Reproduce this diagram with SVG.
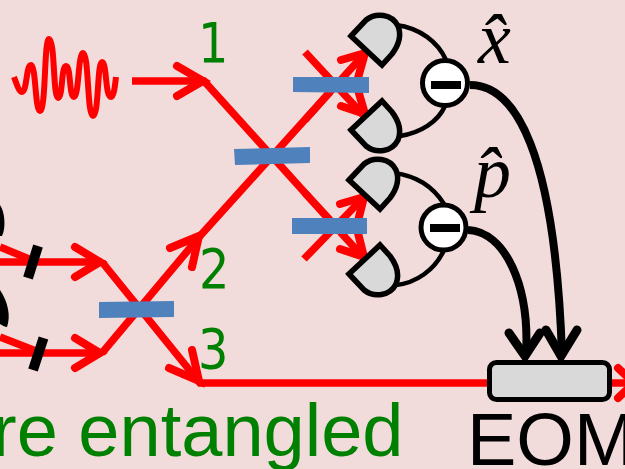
<svg xmlns="http://www.w3.org/2000/svg" width="625" height="469" viewBox="0 0 625 469">
<defs>
<style>
.r{fill:none;stroke:#ff0000;stroke-width:7.500}
.rh{fill:none;stroke:#ff0000;stroke-width:8;stroke-linecap:round}
.bs{fill:#4f81bd}
.det{fill:#d9d9d9;stroke:#000;stroke-width:5.500;stroke-linejoin:miter}
.w{fill:none;stroke:#000;stroke-width:4.500}
.t{fill:none;stroke:#000;stroke-width:8}
.th{fill:none;stroke:#000;stroke-width:9;stroke-linecap:round}
.g{fill:#008000;font-family:"DejaVu Sans",sans-serif;font-size:55px}
.big{font-family:"Liberation Sans",Arial,sans-serif;font-size:74px}
.m{font-family:"Liberation Serif","Times New Roman",serif;font-style:italic;font-size:74px;fill:#000}
</style>
<path id="d" class="det" d="M351,36 L366,20 C376,12 392,14 398,26 C402,36 398,46 392,54 L382,65 Z"/>
</defs>
<rect width="625" height="469" fill="#f2dcdb"/>
<g id="connectors">
<path fill="none" stroke="#ff0000" stroke-width="6" stroke-linejoin="round" d="M14,77 C17,85 19,92 22,92 C27,92 26,65 31,65 C36,65 35,111 40,111 C46,111 44,39 49,39 C55,39 53,98 58,98 C63,98 61,66 66,66 C71,66 69,97 74,97 C79,97 78,53 83,53 C89,53 87,116 93,116 C99,116 97,62 102,62 C107,62 105,97 111,97 C114,97 115,85 116,77"/>
<path class="r" d="M132,81 H204 L362,256"/>
<path class="rh" d="M177,66 L203,81 L177,96"/>
<path class="r" d="M102,353 L200,236 L366,52"/>
<path class="rh" d="M170,248 L199,236 L192,267"/>
<path class="r" d="M305,52 L366,118"/>
<path class="r" d="M305,120 L330,92"/>
<path class="r" d="M304,259 L366,195"/>
<path class="r" d="M305,193 L330,220"/>
<path class="rh" d="M341,60 L365,53 L358,78"/>
<path class="rh" d="M341,106 L365,114 L358,90"/>
<path class="rh" d="M340,204 L364,197 L358,221"/>
<path class="rh" d="M340,249 L364,257 L358,233"/>
<path class="r" d="M102,262 L200,383 H490"/>
<path class="rh" d="M169,368 L199,381 L192,350"/>
<path class="r" d="M0,262 H102"/>
<path class="r" d="M0,353 H102"/>
<path class="r" d="M0,247 L34,261"/>
<path class="r" d="M0,337 L36,351"/>
<path class="rh" d="M75,247 L100,262 L75,277"/>
<path class="rh" d="M75,338 L100,353 L75,368"/>
<path class="r" d="M612,383 H625"/>
<path class="rh" d="M618,368 L634,383 L618,398"/>
<path class="w" d="M396,25 C420,28 438,42 446,60"/>
<path class="w" d="M400,136 C420,133 438,122 445,106"/>
<path class="w" d="M394,173 C418,176 434,188 444,204"/>
<path class="w" d="M396,285 C416,283 435,270 444,250"/>
<path class="t" d="M470,85 C515,85 555,150 562,355"/>
<path class="th" d="M546,330 L561,356 L577,330"/>
<path class="t" d="M468,230 C505,232 530,285 526,355"/>
<path class="th" d="M509,333 L525,356 L540,333"/>
</g>
<g id="bs1"><polygon class="bs" points="234,149 310,147 310,163 235,165"/></g>
<g id="bs2"><polygon class="bs" points="293,77 369,77 369,93 293,92"/></g>
<g id="bs3"><polygon class="bs" points="292,218 367,218 367,234 292,234"/></g>
<g id="bs4"><polygon class="bs" points="99,302 174,301 174,317 99,318"/></g>
<g id="pol1"><line x1="38" y1="246" x2="28" y2="278" stroke="#000" stroke-width="10"/></g>
<g id="pol2"><line x1="43.500" y1="338" x2="33" y2="370" stroke="#000" stroke-width="10"/></g>
<g id="src1"><path d="M0,205 C5,212 6,228 2,236 L0,236 Z" fill="#000"/></g>
<g id="src2"><path d="M0,290 C8,302 11,316 7,327 C5,327 2,325 0,324 Z" fill="#000"/></g>
<g id="det1"><use href="#d"/></g>
<g id="det2"><use href="#d" transform="matrix(1 0 0 -1 0 166)"/></g>
<g id="det3"><use href="#d" transform="translate(-2,144)"/></g>
<g id="det4"><use href="#d" transform="matrix(1 0 0 -1 -2 310)"/></g>
<g id="sub1"><circle cx="445" cy="83" r="22.500" fill="#fff" stroke="#000" stroke-width="5"/><rect x="431" y="81" width="30" height="8"/></g>
<g id="sub2"><circle cx="443.500" cy="227.500" r="22.500" fill="#fff" stroke="#000" stroke-width="5"/><rect x="430" y="224" width="30" height="8"/></g>
<g id="eom"><rect x="489.500" y="362.500" width="120" height="37" rx="7" fill="#d9d9d9" stroke="#000" stroke-width="5"/><text class="big" x="467" y="465" fill="#000">EOM</text></g>
<g id="labels">
<text class="g" transform="translate(198,62) scale(.87,1)">1</text>
<text class="g" transform="translate(199,288) scale(.87,1)">2</text>
<text class="g" transform="translate(198,368) scale(.87,1)">3</text>
<text class="big" x="-8" y="456" fill="#008000">re entangled</text>
<text class="m" x="478" y="63">x̂</text>
<text class="m" x="474" y="197">p̂</text>
</g>
</svg>
